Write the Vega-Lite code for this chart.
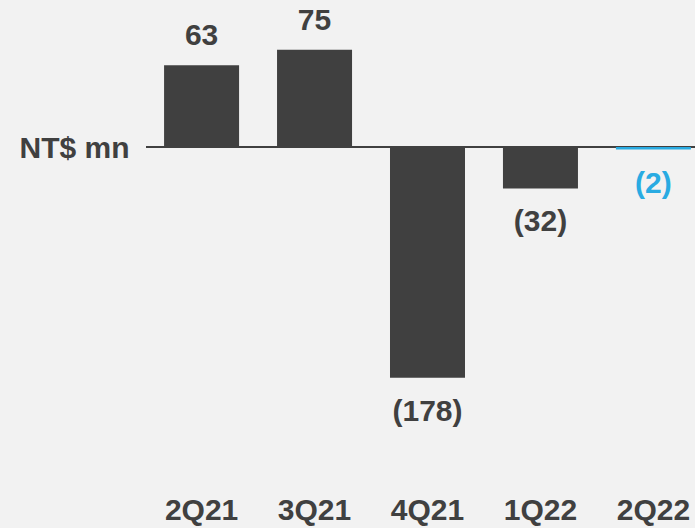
{
  "$schema": "https://vega.github.io/schema/vega-lite/v6.json",
  "autosize": "none",
  "padding": {"left": 146, "top": 0, "right": 0, "bottom": 38},
  "width": 563,
  "height": 490,
  "background": "#F2F2F2",
  "config": {"view": {"stroke": null}, "font": "Liberation Sans"},
  "data": {"values": [
    {"quarter": "2Q21", "value": 63, "label": "63"},
    {"quarter": "3Q21", "value": 75, "label": "75"},
    {"quarter": "4Q21", "value": -178, "label": "(178)"},
    {"quarter": "1Q22", "value": -32, "label": "(32)"},
    {"quarter": "2Q22", "value": -2, "label": "(2)"}
  ]},
  "encoding": {
    "x": {"field": "quarter", "type": "nominal", "sort": null,
      "scale": {"paddingInner": 0.336, "paddingOuter": 0.16},
      "axis": {"orient": "bottom", "title": null, "domain": false, "ticks": false, "labelAngle": 0,
        "labelFont": "Liberation Sans", "labelFontWeight": "bold", "labelFontSize": 30, "labelColor": "#404040", "labelPadding": 5}},
    "y": {"field": "value", "type": "quantitative",
      "scale": {"domain": [-264.5, 113.3], "nice": false, "zero": false},
      "axis": {"orient": "left", "domain": false, "ticks": false, "labels": false, "grid": false,
        "title": "NT$ mn", "titleAngle": 0, "titleAlign": "right", "titleBaseline": "middle",
        "titleX": -17, "titleY": 148, "titleFont": "Liberation Sans", "titleFontWeight": "bold",
        "titleFontSize": 30, "titleColor": "#404040"}}
  },
  "layer": [
    {"mark": {"type": "rule", "color": "#404040", "strokeWidth": 2},
     "encoding": {"x": null, "y": {"datum": 0, "type": "quantitative"}}},
    {"mark": {"type": "bar"},
     "encoding": {"y2": {"datum": 0},
       "color": {"condition": {"test": "datum.quarter === '2Q22'", "value": "#29ABE2"}, "value": "#404040"}}},
    {"transform": [{"filter": "datum.value >= 0"}],
     "mark": {"type": "text", "baseline": "bottom", "dy": -14, "fontSize": 30, "fontWeight": "bold", "font": "Liberation Sans"},
     "encoding": {"text": {"field": "label"},
       "color": {"condition": {"test": "datum.quarter === '2Q22'", "value": "#29ABE2"}, "value": "#404040"}}},
    {"transform": [{"filter": "datum.value < 0"}],
     "mark": {"type": "text", "baseline": "top", "dy": 19, "fontSize": 30, "fontWeight": "bold", "font": "Liberation Sans"},
     "encoding": {"text": {"field": "label"},
       "color": {"condition": {"test": "datum.quarter === '2Q22'", "value": "#29ABE2"}, "value": "#404040"}}}
  ]
}
